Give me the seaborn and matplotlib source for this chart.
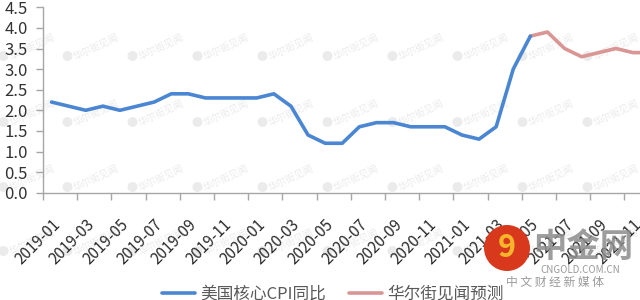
import numpy as np
import pandas as pd
import seaborn as sns
import matplotlib
matplotlib.use("Agg")
import matplotlib.pyplot as plt
from matplotlib.patches import Ellipse
from matplotlib.ticker import MultipleLocator, FixedLocator

# ---------------- data ----------------
months = [f"{y}-{m:02d}" for y in (2019, 2020, 2021) for m in range(1, 13)]
core_cpi = [2.2, 2.1, 2.0, 2.1, 2.0, 2.1, 2.2, 2.4, 2.4, 2.3, 2.3, 2.3,
            2.3, 2.4, 2.1, 1.4, 1.2, 1.2, 1.6, 1.7, 1.7, 1.6, 1.6, 1.6,
            1.4, 1.3, 1.6, 3.0, 3.8]
forecast_months = ["2021-05", "2021-06", "2021-07", "2021-08", "2021-09",
                   "2021-10", "2021-11", "2021-12"]
forecast = [3.8, 3.9, 3.5, 3.3, 3.4, 3.5, 3.4, 3.4]
series1_name = "美国核心CPI同比"
series2_name = "华尔街见闻预测"
tick_labels = months[0:35:2]

# ---------------- style ----------------
sns.set_theme(style="white")
plt.rcParams['font.family'] = ['Noto Sans CJK SC', 'DejaVu Sans']

W, H = 640, 300
fig = plt.figure(figsize=(W / 100, H / 100), dpi=100)

# watermark grid (decorative, behind everything)
for wy in (57, 123, 188, 252):
    for wx in (3, 67, 132, 197, 262, 327, 392, 457, 522, 587):
        fig.text(wx / W, 1 - wy / H, "●", color="#ebebeb", fontsize=8,
                 ha="center", va="center", zorder=-5)
        fig.text((wx + 7) / W, 1 - wy / H, "华尔街见闻", color="#ebebeb",
                 fontsize=7, rotation=25, rotation_mode="anchor",
                 ha="left", va="center", zorder=-5)

ax = fig.add_axes([43 / W, 1 - 192.7 / H, 1 - 43 / W, (192.7 - 7.3) / H])
ax.patch.set_alpha(0)

df1 = pd.DataFrame({"x": [months.index(m) for m in months[:len(core_cpi)]],
                    "v": core_cpi})
df2 = pd.DataFrame({"x": [months.index(m) for m in forecast_months],
                    "v": forecast})

sns.lineplot(data=df1, x="x", y="v", ax=ax, color="#4A86D2", linewidth=2.6,
             label=series1_name, zorder=3)
sns.lineplot(data=df2, x="x", y="v", ax=ax, color="#D99694", linewidth=2.6,
             label=series2_name, zorder=2)

ax.set_xlim(-0.5, -0.5 + (W - 43) / 17.1)
ax.set_ylim(0, 4.5)
ax.set_xlabel("")
ax.set_ylabel("")

ax.yaxis.set_major_locator(MultipleLocator(0.5))
ax.yaxis.set_major_formatter(matplotlib.ticker.FormatStrFormatter("%.1f"))
ax.tick_params(axis="y", which="major", direction="out", length=5, width=1,
               color="#a6a6a6", labelsize=12, labelcolor="#333333", pad=6,
               left=True)

ax.xaxis.set_major_locator(FixedLocator([months.index(m) for m in tick_labels]))
ax.set_xticklabels(tick_labels, rotation=45, ha="right", rotation_mode="anchor")
ax.xaxis.set_minor_locator(FixedLocator(np.arange(-0.5, 36, 2)))
ax.tick_params(axis="x", which="major", length=0, labelsize=11,
               labelcolor="#2b2b2b", pad=17)
ax.tick_params(axis="x", which="minor", direction="out", length=5, width=1,
               color="#a6a6a6", bottom=True)

for s in ("top", "right"):
    ax.spines[s].set_visible(False)
for s in ("left", "bottom"):
    ax.spines[s].set_color("#a6a6a6")
    ax.spines[s].set_linewidth(1)

leg = ax.legend(loc="center", bbox_to_anchor=(0.52, 0.02),
                bbox_transform=fig.transFigure, ncol=2, frameon=False,
                fontsize=12, handlelength=2.0, handletextpad=0.3,
                columnspacing=1.4)
for t in leg.get_texts():
    t.set_color("#595959")

# 中金网 logo (decorative)
cx, cy, r = 507, 248, 23
fig.patches.append(Ellipse((cx / W, 1 - cy / H), 2 * r / W, 2 * r / H,
                           transform=fig.transFigure, facecolor="#D8391C",
                           edgecolor="none", zorder=5, figure=fig))
fig.text(cx / W, 1 - cy / H, "9", color="#F7B52C", fontsize=22,
         fontweight="bold", ha="center", va="center", zorder=6)
fig.text(583 / W, 1 - 247 / H, "中金网", color="#8c8c8c", alpha=0.85,
         fontsize=24, fontweight="bold", ha="center", va="center", zorder=6)
fig.text(580 / W, 1 - 270 / H, "CNGOLD.COM.CN", color="#9a9a9a",
         fontsize=7, ha="center", va="center", zorder=6)
fig.text(555 / W, 1 - 282 / H, "中 文 财 经 新 媒 体", color="#9a9a9a",
         fontsize=8.5, ha="center", va="center", zorder=6)

fig.savefig("out.png", dpi=100)
